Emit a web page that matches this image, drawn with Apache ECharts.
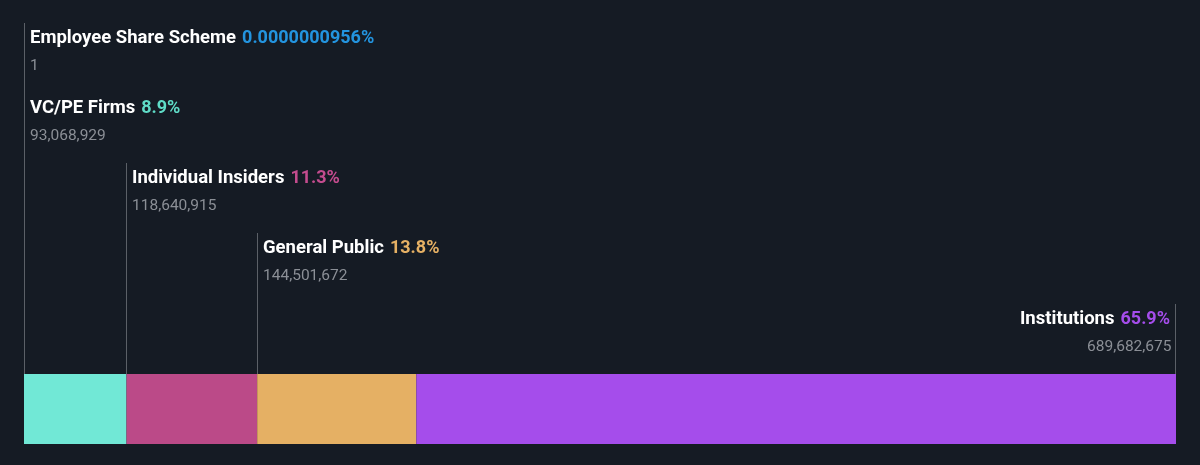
<!DOCTYPE html>
<html>
<head>
<meta charset="utf-8">
<script src="https://cdn.jsdelivr.net/npm/echarts@6/dist/echarts.min.js"></script>
<style>
html,body{margin:0;padding:0;background:#151b24;}
#c{width:1200px;height:465px;}
</style>
</head>
<body>
<div id="c"></div>
<script>
const categories = ['Employee Share Scheme', 'VC/PE Firms', 'Individual Insiders', 'General Public', 'Institutions'];
const shares = [1, 93068929, 118640915, 144501672, 689682675];
const percentLabels = ['0.0000000956%', '8.9%', '11.3%', '13.8%', '65.9%'];
const shareLabels = ['1', '93,068,929', '118,640,915', '144,501,672', '689,682,675'];
const colors = ['#2394df', '#71e8d6', '#bb4a88', '#e5b064', '#a54deb'];
const pctColors = ['#2394df', '#5fdcc7', '#c44c8e', '#e5b064', '#a54deb'];

const total = shares.reduce((a, b) => a + b, 0);
const chart = echarts.init(document.getElementById('c'));

const series = categories.map((name, i) => ({
  name: name,
  type: 'bar',
  stack: 'all',
  barWidth: '100%',
  data: [shares[i]],
  itemStyle: { color: colors[i] },
  silent: true
}));

chart.setOption({
  backgroundColor: '#151b24',
  animation: false,
  grid: { left: 24, right: 24, top: 374, bottom: 21 },
  xAxis: { type: 'value', min: 0, max: total, show: false },
  yAxis: { type: 'category', data: ['Ownership'], show: false },
  series: series
});

// label layout
const rowTop = [23, 93, 163, 233, 304];
const barTop = 374;
const graphics = [];
let cum = 0;
categories.forEach((name, i) => {
  const startPx = chart.convertToPixel({ gridIndex: 0 }, [cum, 0])[0];
  const endPx = chart.convertToPixel({ gridIndex: 0 }, [cum + shares[i], 0])[0];
  cum += shares[i];
  const last = i === categories.length - 1;
  const lx = last ? Math.round(endPx) - 0.5 : Math.floor(startPx) + 0.5;
  graphics.push({
    type: 'line',
    shape: { x1: lx, y1: rowTop[i], x2: lx, y2: barTop },
    style: { stroke: '#5b6067', lineWidth: 1 },
    z: 10
  });
  const tx = last ? lx - 5.5 : lx + 5.5;
  const align = last ? 'right' : 'left';
  graphics.push({
    type: 'text',
    x: tx, y: rowTop[i] + 15.5,
    style: {
      text: '{n|' + name + '}{p|' + percentLabels[i] + '}',
      align: align, verticalAlign: 'middle',
      rich: {
        n: { fill: '#ffffff', fontSize: 18.5, fontWeight: 'bold', fontFamily: 'Roboto', padding: [0, 6, 0, 0] },
        p: { fill: pctColors[i], fontSize: 18, fontWeight: 'bold', fontFamily: 'Roboto' }
      }
    },
    z: 10
  });
  graphics.push({
    type: 'text',
    x: last ? lx - 4 : tx, y: rowTop[i] + 43,
    style: {
      text: shareLabels[i],
      align: align, verticalAlign: 'middle',
      fill: '#8b8f96', fontSize: 15.5, fontFamily: 'Roboto'
    },
    z: 10
  });
});
chart.setOption({ graphic: graphics });
</script>
</body>
</html>
